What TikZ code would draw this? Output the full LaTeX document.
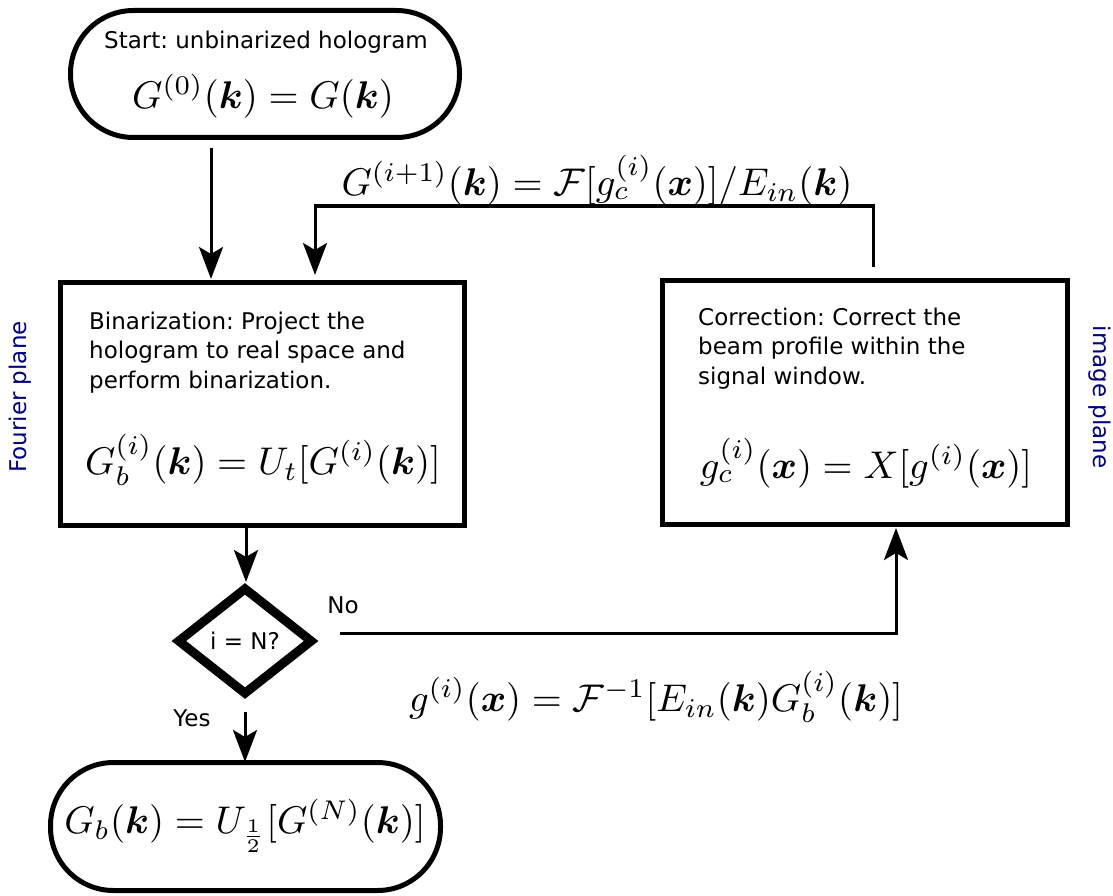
\documentclass[tikz,border=0pt]{standalone}
\usepackage[no-math]{fontspec}
\usepackage{amsmath,bm}
\newfontfamily\djv{DejaVu Sans}
\usetikzlibrary{arrows.meta,shapes.geometric}
\definecolor{navyblue}{RGB}{0,0,128}
\newcommand{\txtsize}{\fontsize{23}{29.5}\selectfont\frenchspacing}
\tikzset{
  x=1pt, y=-1pt,
  terminal/.style={draw, line width=5pt, rounded corners=63pt, inner sep=0pt},
  procbox/.style={draw, line width=5pt, inner sep=0pt},
  decision/.style={draw, diamond, line width=9pt, inner sep=0pt, minimum width=136pt, minimum height=108pt, font=\djv\txtsize},
  conn/.style={line width=3pt, -{Stealth[width=24pt,length=32pt,inset=7pt]}},
  txt/.style={font=\djv\txtsize, inner sep=0pt},
  eq/.style={scale=3.86, inner sep=0pt},
  side/.style={font=\djv\txtsize, text=navyblue, inner sep=0pt}
}
\begin{document}
\begin{tikzpicture}
\useasboundingbox (0,0) rectangle (1113,896);
% start terminal
\node[terminal, minimum width=389pt, minimum height=127pt] (start) at (265,74) {};
\node[txt] (starttext) at (266,42) {Start: unbinarized hologram};
\node[eq] (starteq) at (263,96) {$G^{(0)}(\bm{k})=G(\bm{k})$};
% binarization box
\node[procbox, minimum width=404pt, minimum height=243pt] (bin) at (262.5,404) {};
\node[txt, anchor=north west, align=left] (bintext) at (89,311.5) {Binarization: Project the\\hologram to real space and\\perform binarization.};
\node[eq] (bineq) at (263,460) {$G_b^{(i)}(\bm{k})=U_t[G^{(i)}(\bm{k})]$};
% correction box
\node[procbox, minimum width=405pt, minimum height=244pt] (corr) at (865,402.5) {};
\node[txt, anchor=north west, align=left] (corrtext) at (698,307.5) {Correction: Correct the\\beam profile within the\\signal window.};
\node[eq] (correq) at (866,463) {$g_c^{(i)}(\bm{x})=X[g^{(i)}(\bm{x})]$};
% decision
\node[decision] (dec) at (245,641) {i = N?};
% end terminal
\node[terminal, minimum width=390pt, minimum height=128pt] (end) at (245.5,826.5) {};
\node[eq] (endeq) at (245,826) {$G_b(\bm{k})=U_{\frac{1}{2}}[G^{(N)}(\bm{k})]$};
% side labels
\node[side, rotate=90] (fourier) at (20,397) {Fourier plane};
\node[side, rotate=-90] (image) at (1100,397) {image plane};
% connector labels
\node[eq] (fwdlabel) at (656,697) {$g^{(i)}(\bm{x})=\mathcal{F}^{-1}[E_{in}(\bm{k})G_b^{(i)}(\bm{k})]$};
\node[eq] (backlabel) at (597,180) {$G^{(i+1)}(\bm{k})=\mathcal{F}[g_c^{(i)}(\bm{x})]/E_{in}(\bm{k})$};
\node[txt] (nolabel) at (343,605) {No};
\node[txt] (yeslabel) at (192,718) {Yes};
% coordinates
\coordinate (s1) at (211,148);
\coordinate (b1) at (211,279);
\coordinate (fbstart) at (873,267);
\coordinate (fbend) at (315,275);
\coordinate (binbot) at (246,528);
\coordinate (dectop) at (246,582);
\coordinate (nostart) at (340,633);
\coordinate (corrbot) at (896,528);
\coordinate (yesstart) at (245,712);
\coordinate (endtop) at (245,762);
% connectors
\draw[conn] (s1) -- (b1);
\draw[conn] (fbstart) |- (594,206) -| (fbend);
\draw[conn] (binbot) -- (dectop);
\draw[conn] (nostart) -| (corrbot);
\draw[conn] (yesstart) -- (endtop);
\end{tikzpicture}
\end{document}
